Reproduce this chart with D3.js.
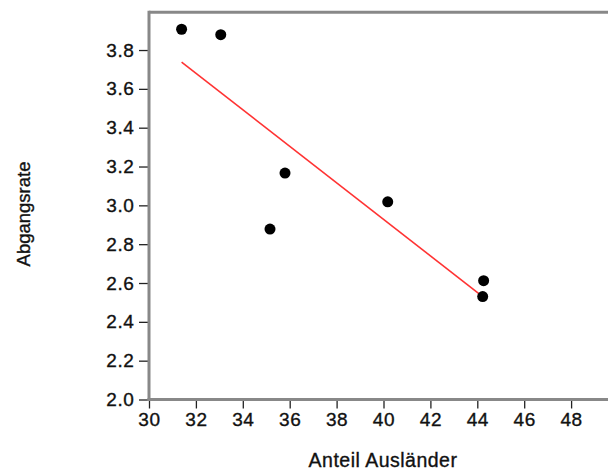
<!DOCTYPE html>
<html>
<head>
<meta charset="utf-8">
<script src="https://cdn.jsdelivr.net/npm/d3@7"></script>
<style>
  html, body { margin: 0; padding: 0; background: #fff; }
  svg { display: block; }
  text { font-family: "Liberation Sans", Arial, sans-serif; fill: #111; stroke: #111; stroke-width: 0.35px; }
</style>
</head>
<body>
<svg id="chart" width="608" height="472"></svg>
<script>
// Data
const anteilAuslaender = [31.39, 33.06, 35.16, 35.80, 40.18, 44.27, 44.23];
const abgangsrate      = [3.907, 3.879, 2.878, 3.166, 3.018, 2.612, 2.530];
const fitX = [31.39, 44.23];
const fitY = [3.738, 2.530];
const xTicks = [30, 32, 34, 36, 38, 40, 42, 44, 46, 48];
const yTicks = [2.0, 2.2, 2.4, 2.6, 2.8, 3.0, 3.2, 3.4, 3.6, 3.8];
const xTitle = "Anteil Ausländer";
const yTitle = "Abgangsrate";

const svg = d3.select("#chart");
const plotLeft = 149, plotTop = 11.2, plotBottom = 399.5;
const x = d3.scaleLinear().domain([30, 50]).range([plotLeft, plotLeft + 20 * 23.45]);
const y = d3.scaleLinear().domain([2, 4]).range([plotBottom, plotTop]);

// Axes (ticks + labels)
const yAxis = svg.append("g")
  .attr("transform", `translate(${plotLeft},0)`)
  .call(d3.axisLeft(y).tickValues(yTicks).tickFormat(d3.format(".1f")).tickSize(10).tickPadding(4.5));
const xAxis = svg.append("g")
  .attr("transform", `translate(0,${plotBottom})`)
  .call(d3.axisBottom(x).tickValues(xTicks).tickFormat(d3.format("d")).tickSize(9).tickPadding(4.5));
[yAxis, xAxis].forEach(g => {
  g.select(".domain").remove();
  g.selectAll(".tick line").attr("stroke", "#222").attr("stroke-width", 1.3);
  g.selectAll(".tick text").attr("font-size", 19).attr("fill", "#111")
    .attr("font-family", "'Liberation Sans', Arial, sans-serif")
    .style("letter-spacing", "0.6px");
});

// Frame lines
const frame = svg.append("g").attr("stroke", "#888").attr("stroke-width", 3).attr("fill", "none");
frame.append("line").attr("x1", plotLeft).attr("x2", 608).attr("y1", plotTop + 1).attr("y2", plotTop + 1);
frame.append("line").attr("x1", plotLeft).attr("x2", plotLeft).attr("y1", plotTop - 0.5).attr("y2", plotBottom + 1.5);
frame.append("line").attr("x1", plotLeft - 1.5).attr("x2", 608).attr("y1", plotBottom).attr("y2", plotBottom);

// Fit line
svg.append("line")
  .attr("x1", x(fitX[0])).attr("y1", y(fitY[0]))
  .attr("x2", x(fitX[1])).attr("y2", y(fitY[1]))
  .attr("stroke", "#ff3333").attr("stroke-width", 1.6);

// Points
svg.append("g").selectAll("circle")
  .data(anteilAuslaender.map((v, i) => [v, abgangsrate[i]]))
  .join("circle")
  .attr("cx", d => x(d[0])).attr("cy", d => y(d[1]))
  .attr("r", 5.5).attr("fill", "#000");

// Titles
svg.append("text")
  .attr("x", 383).attr("y", 466.5)
  .attr("text-anchor", "middle").attr("font-size", 19.5)
  .style("letter-spacing", "0.5px")
  .text(xTitle);
svg.append("text")
  .attr("transform", "translate(30,214) rotate(-90)")
  .attr("text-anchor", "middle").attr("font-size", 18.5)
  .text(yTitle);
</script>
</body>
</html>
